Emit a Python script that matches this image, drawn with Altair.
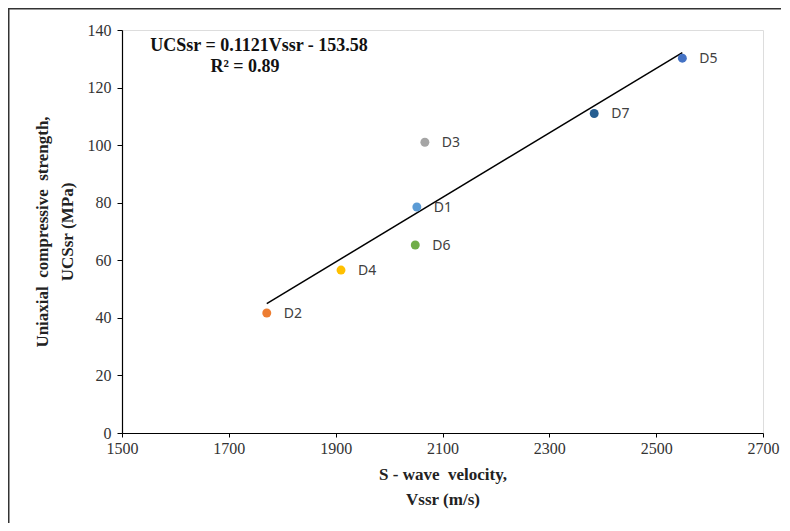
import altair as alt
import pandas as pd

names = ["D1", "D2", "D3", "D4", "D5", "D6", "D7"]
vs = [2052, 1771, 2067, 1910, 2549, 2049, 2384]
ucs = [78.5, 41.7, 101.0, 56.6, 130.2, 65.3, 111.0]
colors = ["#5B9BD5", "#ED7D31", "#A5A5A5", "#FFC000", "#4472C4", "#70AD47", "#255E91"]

slope = 0.1121
intercept = -153.58
x_ticks = [1500, 1700, 1900, 2100, 2300, 2500, 2700]
y_ticks = [0, 20, 40, 60, 80, 100, 120, 140]

df = pd.DataFrame({"name": names, "vs": vs, "ucs": ucs, "color": colors})
x_line = [min(vs), max(vs)]
line_df = pd.DataFrame({"vs": x_line, "ucs": [slope * v + intercept for v in x_line]})

W, H = 641, 403
PL, PT, PR, PB = 114, 22, 18, 90
NB = "\u00a0"

xs = alt.Scale(domain=[1500, 2700], nice=False, zero=False)
ys = alt.Scale(domain=[0, 140], nice=False)

x_axis = alt.Axis(
    values=x_ticks, format="d", grid=False, domain=True, domainColor="#000", domainWidth=1.2,
    tickColor="#000", tickSize=4, labelFont="Liberation Serif", labelFontSize=16,
    labelColor="#333", labelPadding=3, labelFlush=False,
    title=[f"S{NB}-{NB}wave{NB}{NB}velocity,", "Vssr (m/s)"], titleFont="Liberation Serif",
    titleFontSize=17, titleFontWeight="bold", titleColor="#222", titlePadding=10,
    titleLineHeight=25,
)
y_axis = alt.Axis(
    values=y_ticks, format="d", grid=False, domain=True, domainColor="#000", domainWidth=1.2,
    tickColor="#000", tickSize=5, labelFont="Liberation Serif", labelFontSize=16,
    labelColor="#333", labelPadding=6, labelFlush=False,
    title=[f"Uniaxial{NB}{NB}compressive{NB}{NB}strength,", f"UCSsr{NB}(MPa)"],
    titleFont="Liberation Serif",
    titleFontSize=17, titleFontWeight="bold", titleColor="#222", titlePadding=11,
    titleLineHeight=25,
)

base = alt.Chart(df)

frame = alt.Chart(pd.DataFrame({"a": [0]})).mark_rect(
    fill="white", fillOpacity=0, stroke="#333", strokeWidth=1.5
).encode(
    x=alt.value(-PL + 0.75), x2=alt.value(W + PR + 20),
    y=alt.value(-PT + 0.75), y2=alt.value(H + PB + 20),
)

trend = alt.Chart(line_df).mark_line(color="#000", strokeWidth=1.5).encode(
    x=alt.X("vs:Q", scale=xs, axis=x_axis),
    y=alt.Y("ucs:Q", scale=ys, axis=y_axis),
)

points = base.mark_circle(size=80, opacity=1).encode(
    x=alt.X("vs:Q", scale=xs),
    y=alt.Y("ucs:Q", scale=ys),
    color=alt.Color("color:N", scale=None),
)

labels = base.mark_text(
    align="left", baseline="middle", dx=17, dy=1, font="Noto Sans", fontSize=14, color="#404040"
).encode(
    x=alt.X("vs:Q", scale=xs),
    y=alt.Y("ucs:Q", scale=ys),
    text="name:N",
)

eq = alt.Chart(pd.DataFrame({"t": ["UCSsr = 0.1121Vssr - 153.58"]})).mark_text(
    align="center", baseline="middle", font="Liberation Serif", fontSize=18,
    fontWeight="bold", color="#111"
).encode(x=alt.value(137), y=alt.value(16), text="t:N")

r2 = alt.Chart(pd.DataFrame({"t": ["R² = 0.89"]})).mark_text(
    align="center", baseline="middle", font="Liberation Serif", fontSize=18,
    fontWeight="bold", color="#111"
).encode(x=alt.value(123), y=alt.value(37), text="t:N")

chart = alt.layer(frame, trend, points, labels, eq, r2).properties(
    width=W, height=H,
    autosize=alt.AutoSizeParams(type="none"),
    padding={"left": PL, "top": PT, "right": PR, "bottom": PB},
).configure_view(stroke=None).configure(background="white")

chart.save("out.html", embed_options={"renderer": "svg", "actions": False})
